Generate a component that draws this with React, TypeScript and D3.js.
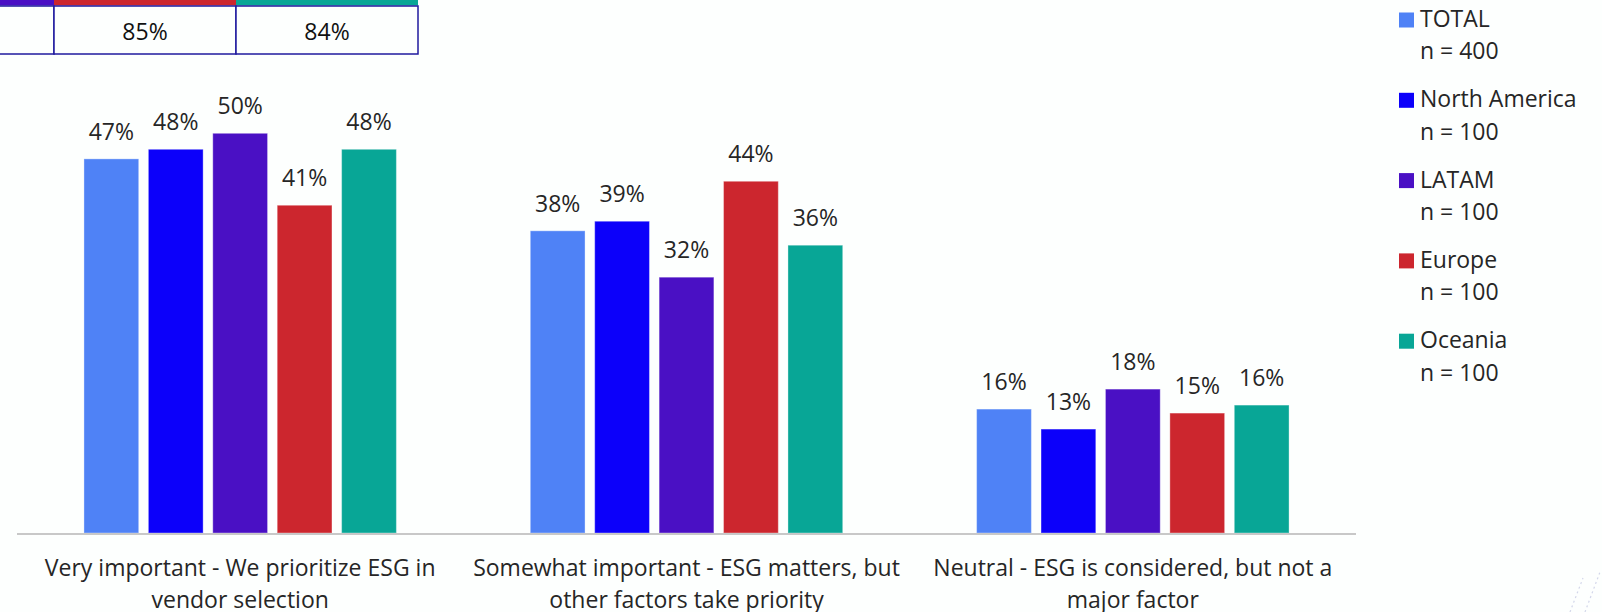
import React from "react";
import * as d3 from "d3";

const categories = ["very", "somewhat", "neutral"];
const categoryLines = [
  ["Very important - We prioritize ESG in", "vendor selection"],
  ["Somewhat important - ESG matters, but", "other factors take priority"],
  ["Neutral - ESG is considered, but not a", "major factor"],
];
const seriesNames = ["TOTAL", "North America", "LATAM", "Europe", "Oceania"];
const seriesN = ["n = 400", "n = 100", "n = 100", "n = 100", "n = 100"];
const seriesColors = ["#4f82f6", "#0c00fa", "#4a10c4", "#cc262e", "#08a696"];
const totalValues = [46.8, 37.8, 15.5];
const northAmericaValues = [48, 39, 13];
const latamValues = [50, 32, 18];
const europeValues = [41, 44, 15];
const oceaniaValues = [48, 36, 16];
const seriesValues = [totalValues, northAmericaValues, latamValues, europeValues, oceaniaValues];

const tableColors = ["#4a10c4", "#cc262e", "#08a696"];
const tableValues = ["", "85%", "84%"];

const W = 1602;
const H = 612;
const FONT = "'Open Sans', 'Noto Sans', sans-serif";
const TEXT = "#262626";

export default function App() {
  const x0 = d3.scaleBand<string>().domain(categories).range([17, 1356]).paddingInner(0.3).paddingOuter(0.15);
  const x1 = d3.scaleBand<string>().domain(seriesNames).range([0, x0.bandwidth()]).paddingInner(0.15);
  const y = d3.scaleLinear().domain([0, 50]).range([533, 133.3]);
  const tableX = [-128, 54, 236, 418];

  return (
    <svg width={W} height={H} style={{ position: "absolute", left: 0, top: 0, background: "#fdfffe" }} fontFamily={FONT}>
      <rect x={0} y={0} width={W} height={H} fill="#fdfffe" />
      {/* top-left table fragment */}
      <g>
        {tableColors.map((c, i) => (
          <rect key={"tc" + i} x={tableX[i]} y={0} width={tableX[i + 1] - tableX[i]} height={5.5} fill={c} />
        ))}
        {tableValues.map((v, i) => (
          <rect key={"tr" + i} x={tableX[i]} y={6} width={tableX[i + 1] - tableX[i]} height={48} fill="#fdfffe" stroke="#1f1a9e" strokeWidth={1.5} />
        ))}
        {tableValues.map((v, i) => (
          <text key={"tt" + i} x={(tableX[i] + tableX[i + 1]) / 2} y={39.5} textAnchor="middle" fontSize={23} fill="#111">{v}</text>
        ))}
      </g>
      {/* bars */}
      {categories.map((cat, ci) => (
        <g key={cat} transform={`translate(${x0(cat)},0)`}>
          {seriesNames.map((s, si) => {
            const v = seriesValues[si][ci];
            const bx = x1(s)!;
            const by = y(v);
            return (
              <g key={s}>
                <rect x={bx} y={by} width={x1.bandwidth()} height={y(0) - by} fill={seriesColors[si]} stroke="#ffffff" strokeOpacity={0.35} strokeWidth={1} />
                <text x={bx + x1.bandwidth() / 2} y={by - 19} textAnchor="middle" fontSize={23} fill={TEXT}>{Math.round(v)}%</text>
              </g>
            );
          })}
        </g>
      ))}
      {/* axis */}
      <line x1={17} x2={1356} y1={534} y2={534} stroke="#c8c8c8" strokeWidth={2} />
      {categories.map((cat, ci) => (
        <text key={"lbl" + cat} x={x0(cat)! + x0.bandwidth() / 2} textAnchor="middle" fontSize={23} fill={TEXT}>
          {categoryLines[ci].map((ln, li) => (
            <tspan key={li} x={x0(cat)! + x0.bandwidth() / 2} y={575.5 + li * 32}>{ln}</tspan>
          ))}
        </text>
      ))}
      {/* legend */}
      {seriesNames.map((s, i) => {
        const base = 27 + i * 80.3;
        return (
          <g key={"lg" + s}>
            <rect x={1399} y={base - 14.5} width={15} height={15} fill={seriesColors[i]} />
            <text x={1420} y={base} fontSize={23} fill={TEXT}>{s}</text>
            <text x={1420} y={base + 32.3} fontSize={23} fill={TEXT}>{seriesN[i]}</text>
          </g>
        );
      })}
      {/* faint corner marks */}
      <g stroke="#c9cde6" strokeWidth={1.2} strokeDasharray="2 3" opacity={0.8}>
        <line x1={1570} y1={612} x2={1583} y2={578} />
        <line x1={1585} y1={612} x2={1600} y2={572} />
      </g>
    </svg>
  );
}
